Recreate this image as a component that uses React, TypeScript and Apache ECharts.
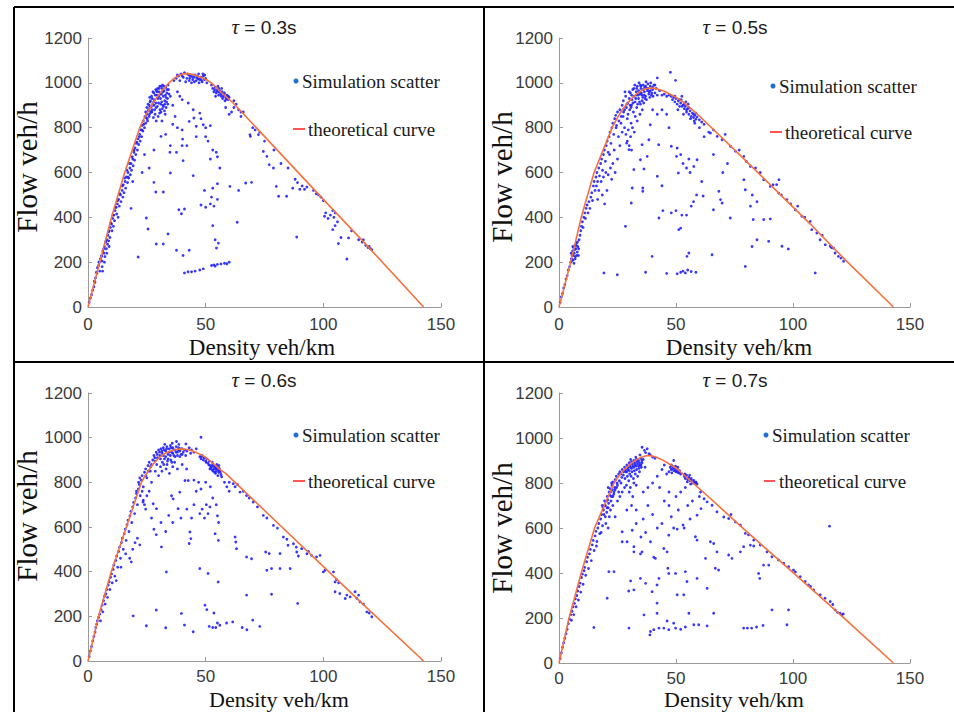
import React, { useEffect, useRef } from "react";
import * as echarts from "echarts";

// ---------- data ----------
const xRange = [0, 150];
const xStep = 50;
const yRange = [0, 1200];
const yStep = 200;
const tauLabels = ["0.3s", "0.5s", "0.6s", "0.7s"];
const xAxisName = "Density veh/km";
const yAxisName = "Flow veh/h";
const legendScatter = "Simulation scatter";
const legendCurve = "theoretical curve";

const curve03: number[][] = [[0,0],[5,200],[10,400],[15.6,600],[22,800],[24,845],[26,882],[28,915],[30,945],[32,972],[34,995],[36,1015],[38,1030],[40.5,1040],[42.5,1041],[44.5,1037],[46.5,1031],[48.5,1023],[50.5,1013],[52.5,999],[54.5,980],[56.5,958],[58.5,940],[61.7,910],[84.4,655],[100,480],[118.5,275],[142.6,0]];
const curve05: number[][] = [[0,0],[5,200],[9.5,400],[15,600],[22.7,800],[25,845],[27,880],[29.5,912],[32,940],[34,957],[36,970],[38,976],[39.5,977],[41.5,974],[43.5,968],[45.5,960],[47.5,949],[50.5,932],[53,915],[55.5,893],[58,870],[60,852],[78.9,662],[107.4,370],[121.6,218],[142.9,0]];
const curve06: number[][] = [[0,0],[4.5,200],[9.9,400],[16.3,600],[22.7,800],[24.5,833],[26.5,865],[28.5,892],[30.5,913],[32.5,928],[35,940],[37.5,947],[39.7,950],[42,947],[44,942],[46,934],[48,924],[50,911],[52,895],[54,877],[56,858],[58.5,840],[61.7,808],[75.9,665],[104.3,380],[118.5,238],[142.6,0]];
const curve07: number[][] = [[0,0],[4.3,200],[9.5,400],[15.2,600],[23.5,800],[25.5,830],[27.5,856],[29.5,875],[31.5,893],[33.5,906],[35.5,916],[37.7,922],[39.5,921],[41.5,915],[43.5,906],[45.5,895],[47.5,882],[50.5,863],[64.7,731],[78.9,596],[107.4,334],[121.6,202],[142.9,0]];

const scatter03: number[][] = [
[0.5,20],[1,40],[1.5,55],[2,75],[2.5,90],[3,110],[3.2,130],[3.8,150],[4,175],[4.5,185],[4.8,200],[5,160],[6.2,160],[5.3,215],[5.8,230],[6,205],[6.3,250],[6.8,240],[7,270],[7.2,225],[7.5,290],[7.8,260],[8,300],[8.3,280],[8.5,320],[8.8,295],[9,340],[9.3,310],[9.5,355],[10,370],[10.2,340],[10.5,395],[10.8,360],[11,410],[11.3,385],[11.5,430],[12,445],[12.2,415],[12.5,460],[12.8,400],[13,480],[13.3,450],[13.8,500],[14,470],[14.5,520],[14.8,490],[15,545],[15.3,510],[15.8,560],[16,530],[16.3,580],[16.8,555],[17,600],[17.3,575],[17.8,620],[18,590],[18.3,640],[18.5,610],[19,660],[19.2,630],[19.5,690],[19.8,655],[20,710],[20.3,680],[20.5,730],[21,700],[21.3,750],[21.5,725],[22,770],[22.2,740],[22.5,790],[22.8,760],[23,810],[23.3,785],[23.5,830],[24,800],[24.2,850],[24.5,820],[25,860],[25.2,840],[25.5,875],[26,850],[26.3,890],[26.8,870],
[24.5,870],[25,890],[25.5,905],[26.4,915],[27.3,930],[27.9,915],[28.6,945],[29.1,965],[29.7,930],[30.3,975],[30.7,950],[31.3,915],[31.9,960],[32.4,985],[32.7,905],[33.1,935],[33.6,970],[34.4,950],[27.1,870],[28.3,880],[29.5,895],[30.4,865],[31.6,885],[32.5,875],[33.9,905],[26.1,860],[25.3,830],[24.7,845],[23.7,815],[22.9,790],[21.8,760],[20.8,735],[19.6,700],[18.8,670],[17.6,640],[16.6,610],[15.6,575],[14.6,540],[13.6,505],[12.6,475],[11.6,445],[10.6,410],[9.7,375],[8.7,335],[7.7,295],[6.7,260],[5.7,225],[4.6,200],[3.6,155],[2.7,115],[6,180],[7,200],[8,240],[9,270],
[18.3,440],[21.3,223],[24.8,397],[25.5,348],[17,580],[19,560],[23,600],[26,620],[28,700],[24,680],
[26,900],[26.5,920],[27,940],[27.5,905],[28,955],[28.3,925],[28.8,970],[29,890],[29.3,945],[29.6,975],[30,910],[30.2,960],[30.5,985],[30.8,930],[31,870],[31.2,950],[31.5,975],[31.8,900],[32,940],[32.3,965],[32.6,920],[33,980],[33.2,890],[33.5,955],[27.2,880],[28.5,860],[29.8,850],[30.6,880],[32.8,860],[31.4,830],[29,830],[27.8,845],[33.8,930],[34.2,970],[25.8,880],[26.7,870],[28.1,900],[30.1,940],[31.7,990],[29.4,960],[27.6,960],[30.9,905],[32.1,895],[33.4,915],[34,990],[28.9,910],[27,895],[31.1,985],[32.9,945],[26.2,935],
[36.5,1010],[37.5,1020],[38.5,1030],[39.5,1040],[40.5,1025],[41,1045],[42,1020],[43,1010],[43.5,1030],[44.5,1015],[45,1025],[46,1010],[46.5,1030],[47,1040],[47.5,1015],[48,1025],[48.5,1005],[49,1030],[49.5,1015],[50,1020],[50.5,1000],[41.5,1005],[44,1000],[47.2,1000],[45.5,1035],[39,1010],[42.8,1035],[48.8,1040],[46.8,1018],[38,1035],[40,1030],[42.2,1040],[44.2,1028],[46.2,1022],[48.2,1012],[49.6,1035],[45.2,1005],[43.2,1020],
[53,975],[53.5,960],[54,980],[54.5,955],[55,970],[55.5,945],[56,965],[56.5,950],[57,960],[57.5,940],[58,955],[58.5,935],[59,945],[59.5,925],[60,935],[55.2,985],[54.2,940],[56.8,975],[58.2,920],[52.5,990],[57.2,930],[53.8,968],[54.8,962],[55.8,958],[56.6,940],[57.8,948],[58.8,928],[59.6,940],[55.6,975],
[35,940],[36,900],[38,960],[39,940],[40,925],[42.6,910],[44.7,880],[37,850],[36,815],[43,828],[45,843],[46,806],[47.5,865],[49,813],[52,809],[40,790],[40.2,749],[31,761],[34.8,690],[37.6,690],[40.4,653],[40,720],[42,720],[50,760],[51,740],[53,700],[54.5,690],[55,670],[52,660],[28,556],[28.8,513],[32,513],[35,598],[44.7,586],[38.6,434],[39.7,416],[41,437],[48,455],[50,445],[52,460],[53.5,450],[52.5,490],[55,480],[49.5,520],[53,530],[55,550],[56,620],[60.3,538],[64,520],[67,553],[69.5,556],[63.4,378],[53,363],[54.6,263],[55.4,285],[54,300],[34,326],[29,281],[32,281],[37.6,253],[40.4,230],[43,253],
[41,152],[42.5,157],[44,157],[45.5,160],[47.5,165],[49,170],[52.5,185],[53.5,188],[55,190],[56.5,192],[58,195],[59,193],[60,200],[54,182],
[62,890],[61,870],[65,850],[58.5,890],[60,860],[62,920],[63,905],[66,870],[64,880],[65,870],[48,840],[50,800],[46,760],[38,800],[33,770],[35,720],
[68.8,769],[69,761],[70,800],[71,790],[72.4,769],[73,780],[74.5,694],[76,672],[75,740],[77,635],[78.8,620],[79,700],[80,538],[81,494],[84.4,494],[82,640],[85,620],[88,570],[87,530],[89,555],[90,525],[91,540],[92,525],[93,535],[88.7,312],[95.8,520],[97,505],[98,500],[99,490],[100,475],[100.5,405],[101,420],[102,395],[103,410],[104,430],[104.5,400],[105,420],[106,380],[104,345],[105,363],[106.4,283],[107.5,310],[110,214],[110.7,308],[112,340],[115,300],[116.5,290],[117,300],[118,275],[119,265],[120,260],[120.6,255],[119.5,270]
];

const scatter05: number[][] = [
[0.5,20],[1,45],[1.5,60],[2,85],[2.5,100],[3,125],[3.5,140],[4,165],[4.5,180],[5,200],[5.3,215],[5.6,230],[5.8,250],[6,210],[6.2,265],[6.5,240],[6.8,275],[7,225],[7.2,260],[7.5,285],[7.8,245],[8,270],[6.4,195],[8.3,230],[8.6,300],[9,320],[9.3,340],[9.6,360],[10,380],[10.3,355],[10.6,400],[11,420],[11.3,395],[11.6,440],[12,455],[12.4,420],[12.8,470],[13.2,440],[13.6,490],[14,510],[14.3,475],[14.7,540],[15,560],[15.4,520],[15.8,580],[16.2,600],[16.5,560],[17,620],[17.3,585],[17.8,640],[18.2,660],[18.6,610],[19,680],[19.4,700],[19.8,650],[20.2,720],[20.6,740],[21,690],[21.4,760],[21.8,780],[22.2,730],[22.6,800],[23,820],[23.4,770],[23.8,840],[24.2,855],[24.6,810],[25,870],
[5.2,240],[5.9,270],[6.6,255],[7.3,275],[7.9,290],[6.1,230],[6.9,215],[7.6,230],[5.4,205],[8.4,260],
[16,540],[17,520],[18,560],[19,580],[20,600],[21,590],[22,620],[23,640],[24,600],[25,660],[18.5,500],[20.5,520],[22.5,570],[19.5,460],[16.5,480],[21.6,680],[23.6,700],[26,720],[25.4,760],[27,780],[28,800],[26.5,820],
[26,880],[27,900],[27.5,920],[28,880],[28.5,940],[29,905],[29.5,860],[30,930],[30.5,955],[31,900],[31.5,970],[32,940],[32.5,915],[33,960],[33.5,985],[34,930],[34.5,950],[35,975],[35.5,920],[36,990],[36.5,960],[37,940],[37.5,975],[38,995],[38.5,960],[39,985],[39.5,945],[40,970],[40.5,990],[41,955],[41.5,975],[42,945],[30.2,880],[31.8,870],[33.2,890],[34.8,905],[36.2,910],[32.4,990],[34.2,1000],[37.2,1005],[29.2,840],[30.8,820],[32.6,850],[35.6,880],[28.2,960],[31.2,925],[33.8,945],[35.2,955],[36.8,930],[38.8,935],[40.2,940],[39.2,1000],[37.8,965],[35.8,935],[33.6,905],[30.4,900],[27.4,850],[29.6,790],[30.6,760],[31.4,800],[32.2,780],[33.4,830],[34.6,860],[28.6,770],[29.2,740],[30,720],[31,700],
[30,960],[31,945],[32,975],[33,945],[34,965],[35,985],[36,970],[37,985],[38,975],[39,965],[40,980],[41,990],[31.6,910],[32.8,930],[34.4,915],[35.4,945],[36.4,945],[37.4,925],[38.4,950],[39.6,955],[33.2,975],[34.8,990],[36.6,980],[30.8,890],[29.4,910],[28.8,890],[27.6,870],[26.6,850],[25.6,830],[24.4,800],
[47,945],[48,940],[48.5,925],[49,935],[49.5,915],[50,930],[50.5,905],[51,920],[51.5,895],[52,910],[52.5,940],[53,900],[53.5,885],[54,895],[54.5,870],[55,885],[55.5,860],[56,875],[56.5,850],[57,865],[57.5,845],[58,855],[58.5,838],[59,848],[60,835],[61,825],[62,815],[52.2,925],[54.2,915],[55.2,905],[50.8,880],[53.2,860],[56.2,840],[57.8,830],[44,945],[45,950],[46,940],[43,965],[42,1022],[47.6,1047],[49.8,1011],[49.5,940],[51.5,925],[53.5,905],[55.5,890],[57.5,860],[58.5,865],[52.5,895],[54.5,880],
[39,813],[38.4,746],[37.7,672],[42.6,724],[48,717],[50.5,709],[52,680],[35.5,724],[29.9,702],[28.9,731],[34.8,657],[32,613],[36.3,616],[42,583],[44,541],[51,598],[50.2,672],[53,640],[54.5,620],[55.5,660],[56,600],[59,657],[57.6,627],[61,560],[31.3,531],[35.8,516],[35.8,531],[28.4,360],[30.9,464],[42.7,397],[44.4,430],[48,420],[50,430],[52.5,410],[54.5,410],[56.5,450],[57.5,470],[58.8,500],[61.6,495],[51.2,345],[52,352],[55.5,241],[54.7,226],[39.8,226],[19.2,152],[24.9,144],[37,155],[46,150],[50.5,148],[52,155],[53,160],[54,152],[55,165],[56.5,158],[58.5,155],[65.4,233],[79.6,181],[109.5,152],[82.5,270],[84.6,300],[89.6,293],[90.3,393],[83,390],[87.5,390],[81.8,450],[84.6,470],[82.6,500],[79.6,523],[79,568],[95.3,271],[98,259],[93,546],[94,568],[68.3,516],[69.7,464],[66,434],[69,479],[73.2,397],[70,600],[72,640],[66,680],[62,760],[64,780],[60,800],[58,820],[46,860],[44,880],[47,800],[40,880],[42,860],
[64.7,776],[66,790],[67.6,761],[69.7,746],[71,770],[73.3,717],[75.4,695],[77,700],[79,672],[80,650],[81.8,627],[84,620],[86,600],[87.5,568],[90.3,538],[91.5,545],[93.9,508],[95,500],[97.4,479],[99,460],[101,434],[102,450],[103.8,405],[105,400],[107.4,382],[108,345],[110.2,330],[111.6,300],[112.5,320],[113.8,278],[115.9,271],[116.5,265],[117.3,263],[118,241],[119.4,226],[120.5,218],[121.6,204]
];

const scatter06: number[][] = [
[0.5,20],[1,45],[1.5,65],[2,90],[2.5,110],[3,130],[3.3,150],[3.7,165],[4,180],[4.5,195],[5,210],[5.3,180],[5.6,230],[6,250],[6.3,220],[6.6,270],[7,290],[7.3,255],[7.6,300],[8,320],[8.3,285],[8.6,340],[9,355],[9.3,320],[9.6,375],[10,390],[10.3,350],[10.7,410],[11,430],[11.4,380],[11.8,450],[12.2,470],[12.6,420],[13,490],[13.4,510],[13.8,460],[14.2,530],[14.6,550],[15,500],[15.4,570],[15.8,590],[16.2,540],[16.6,610],[17,630],[17.4,580],[17.8,650],[18.2,670],[18.6,620],[19,690],[19.4,710],[19.8,660],[20.2,730],[20.6,750],[21,700],[21.4,770],[21.8,790],[22.2,740],[22.6,810],[23,830],[23.5,780],[24,845],[24.5,860],[25,820],[25.5,875],[26,890],[26.5,850],
[17.7,460],[18.4,444],[19,500],[20,530],[21,550],[22,520],[19.2,202],[12,360],[14,420],[16,480],[20.6,760],[21.5,800],[22,820],[23,760],[23.5,720],[24,700],[25,740],[26,760],[27,800],[24.5,680],
[27.5,900],[28,920],[28.5,895],[29,935],[29.5,910],[30,945],[30.5,920],[31,950],[31.5,930],[32,955],[32.5,905],[33,940],[33.5,960],[34,925],[34.5,950],[35,965],[35.5,935],[36,955],[36.5,920],[37,945],[37.5,960],[38,935],[38.5,955],[39,940],[39.5,925],[40,950],[40.5,935],[41,945],[41.5,920],[42,940],[29.2,880],[30.8,870],[32.2,880],[33.8,895],[35.2,900],[36.8,890],[31.4,850],[33.2,860],[34.6,840],[30,830],[28.6,850],[36,870],[37.6,983],[35.8,975],[32.6,970],[38.6,970],[41.6,972],[46,950],[44,945],[45,935],[43,955],[48,1002],[43.6,930],
[29.4,925],[30.4,935],[31.4,940],[32.4,945],[33.4,950],[34.4,935],[35.4,955],[36.4,945],[37.4,935],[38.4,945],[39.4,950],[30.8,905],[32,920],[33,915],[34,905],[35,920],[36,930],[37,915],[38,920],[39,915],[40,925],[28.4,910],[27,880],[26.6,870],[25.6,850],[24.6,830],[31.6,890],[33.6,880],[35.6,890],
[47.5,915],[48,905],[48.5,920],[49,900],[49.5,910],[50,895],[50.5,905],[51,885],[51.5,895],[52,875],[52.5,870],[53,880],[53.5,860],[54,870],[54.5,850],[55,865],[55.5,845],[56,855],[56.5,835],[54.2,840],[53.2,850],[55.2,830],[52.8,890],[51.8,860],[56.8,825],[55.6,875],[54.8,880],[52.2,865],[53.4,872],[54.4,860],[55.4,855],[56.2,845],[52.8,855],[53.8,845],[54.6,868],[55.8,862],[51.4,878],[50.2,890],[49.2,912],[48.2,915],
[61.7,794],[60,800],[62.5,780],[63.5,790],[64.6,756],[66,760],[67.4,741],[68.5,730],[70.2,712],[72,690],[74.5,652],[76,640],[78.8,607],[80.5,595],[83,555],[84.5,545],[87.3,525],[88.5,510],[90.8,503],[93,480],[95,473],[97.1,466],[98.6,473],[100.7,406],[100,399],[104.3,399],[105,354],[105.6,365],[106.5,350],[107,302],[105,310],[109.3,280],[110,295],[111.4,287],[113.5,310],[114.2,281],[115,295],[115.6,265],[117,255],[118.5,220],[119.5,215],[120.6,198],
[41.9,860],[42.6,808],[41.2,808],[39,756],[38.3,682],[23.4,712],[27.7,704],[29.1,682],[29,566],[28,590],[27,640],[31.2,511],[33.3,399],[34.3,652],[36.2,726],[35.5,740],[43.7,548],[43,526],[43.3,578],[47.5,660],[48.5,680],[49.5,640],[50.3,700],[51,660],[51.8,690],[53,730],[54.5,700],[55,650],[55.5,620],[54,570],[55.4,540],[51,392],[47.5,414],[55.3,354],[49.7,250],[50.5,230],[53.5,215],[55,170],[54.3,150],[56,160],[53,150],[51.5,155],[41,161],[44.7,131],[33,149],[24.8,158],[29,228],[39.7,213],[58.9,170],[61.5,175],[65.5,150],[67.5,140],[70,183],[73,155],[67.4,295],[63.1,503],[62.8,533],[62.5,555],[67.4,466],[69.5,458],[78,299],[75.5,488],[77,481],[76,406],[78,414],[81.6,414],[85.9,414],[81.6,481],[85,518],[89.1,258],[88.7,488],[89.4,470],[93.7,491],[45,700],[44,640],[46,760],[48,770],[42,680],[39.5,640],[36,620],[33,580],[31,620],[59,780],[58,800],[60,760],[45,810],[47,800],[38,860],[40,880],[50,800],[52,780]
];

const scatter07: number[][] = [
[0.5,20],[1,45],[1.5,70],[2,90],[2.5,110],[3,130],[3.5,150],[4,175],[4.5,195],[5,215],[5.3,190],[5.6,230],[6,250],[6.3,215],[6.6,265],[7,285],[7.3,250],[7.6,300],[8,320],[8.3,280],[8.6,340],[9,355],[9.3,315],[9.6,380],[10,395],[10.3,350],[10.7,410],[11,425],[11.4,390],[11.8,450],[12.2,470],[12.6,420],[13,485],[13.4,505],[13.8,455],[14.2,525],[14.6,545],[15,500],[15.4,565],[15.8,585],[16.2,540],[16.6,600],[17,620],[17.4,575],[17.8,640],[18.2,660],[18.6,610],[19,680],[19.4,700],[19.8,650],[20.2,720],[20.6,740],[21,690],[21.4,760],[21.8,775],[22.2,720],[22.6,790],[23,805],[23.5,760],[24,815],[24.5,830],[25,790],[25.5,840],[26,850],[26.5,800],
[18.5,700],[19.5,720],[20.5,690],[21.5,650],[22,680],[23,700],[24,650],[25,720],[20,620],[21,600],[18,580],[16,520],[14.9,158],[20.6,288],[21.3,406],[23.5,406],[27,539],[27,583],[29.1,539],[31.3,590],[22,760],[23,740],[24,770],[25.5,760],[26,740],[27,760],[28,780],[21,780],[22.5,800],
[26.5,840],[27,860],[27.5,835],[28,870],[28.5,850],[29,880],[29.5,860],[30,890],[30.5,870],[31,895],[31.5,875],[32,900],[32.5,880],[33,905],[33.5,885],[34,900],[34.5,880],[35,910],[35.5,890],[36,905],[28.2,820],[29.2,830],[30.2,840],[31.2,850],[32.2,855],[33.2,860],[34.2,865],[35.2,870],[29.8,810],[31.8,820],[33.6,830],[30.6,905],[32.8,915],[34.6,925],[35.5,959],[37.7,952],[37,935],[38.5,930],[36.5,945],[39,925],[40,915],[41,910],[36.8,870],[28.8,790],[30.5,780],[32,800],[33,790],[30,760],[31.5,740],
[28.4,860],[29.4,870],[30.4,880],[31.4,885],[32.4,890],[33.4,895],[34.4,890],[35.4,900],[29,850],[30,855],[31,865],[32,870],[33,875],[34,875],[35,880],[30.8,830],[32.6,840],[34.4,850],[27.6,850],[26.8,825],[25.8,810],[24.8,800],[23.8,780],[22.8,770],[21.8,745],[20.8,725],[19.8,700],[18.8,690],[19.2,660],[20.4,670],[21.2,710],[22.4,740],[23.4,750],[24.6,780],
[47.5,870],[48,860],[48.5,875],[49,855],[49.5,865],[50,850],[50.5,860],[51,845],[51.5,855],[52,840],[48.2,845],[49.8,875],[50.8,870],[47,850],[49,900],[48,880],[48.6,865],[49.6,855],[50.6,850],[51.6,845],
[53.5,830],[54,820],[54.5,835],[55,815],[55.5,825],[56,810],[56.5,820],[57,800],[57.5,812],[58,798],[58.5,805],[59,795],[54.8,805],[56.2,795],[53.8,840],[55.8,835],[54.2,828],[55.2,822],[56.4,812],[57.6,805],[58.6,800],
[63.3,716],[62,730],[60.5,760],[65.4,701],[67.5,672],[70.4,649],[72.5,642],[73.5,660],[75.4,627],[77.5,613],[79.6,576],[81,570],[83.2,546],[86,524],[88.9,494],[91,472],[93.8,458],[96,443],[98.1,428],[100.2,413],[101,405],[103.1,384],[105.2,362],[106.6,347],[107.5,340],[108.8,325],[111.6,303],[113.7,288],[115.9,273],[117,260],[118,236],[120.1,221],[120.9,214],[119,225],[121.5,218],
[115.6,608],[41.2,465],[40.5,470],[35.5,494],[34.8,485],[32,494],[32,517],[39.1,539],[44.8,509],[46.2,494],[46.9,568],[49,600],[50.5,595],[53.5,600],[53,613],[58.3,561],[59,546],[59,657],[60.7,686],[62.6,465],[64.7,539],[66.1,531],[67.5,494],[68.2,413],[66.8,421],[72.5,480],[73.9,465],[77.5,494],[78.9,517],[81.8,524],[83.2,520],[85.3,398],[85.8,376],[87.4,435],[89.6,435],[91,236],[98.1,236],[97.4,170],[78.9,155],[80.5,155],[82.3,155],[84.4,160],[87.2,167],[34.8,376],[30.6,365],[32,325],[29.8,320],[39.8,317],[37,354],[41.9,347],[42.7,376],[46.9,398],[46.5,421],[49.8,398],[54,406],[54.7,362],[59,376],[63.3,332],[50.5,303],[53.3,303],[41.9,266],[41.9,221],[36.3,214],[55.5,221],[66.1,221],[46.2,187],[49,177],[39.1,140],[40.5,148],[42.7,155],[44.8,155],[46.9,148],[49.8,155],[52,150],[54,160],[57.6,170],[59.7,170],[63.3,165],[38.8,125],[29.9,155],
[36,760],[38,780],[40,800],[42,830],[44,860],[45,880],[46,840],[43,780],[45,720],[47,700],[50,740],[52,760],[55,700],[57,720],[60,740],[48,650],[51,680],[56,640],[38,700],[40,660],[36,640],[42,600],[44,620],[37,580],[35,560],[33,620],[33,680],[31,700],[29,680],[47,760],[54,780]
];

const curves = [curve03, curve05, curve06, curve07];
const scatters = [scatter03, scatter05, scatter06, scatter07];

// ---------- layout (pixels) ----------
const layout = [
  { grid: { left: 88, top: 38, width: 353, height: 269 }, title: [264, 27], yName: [27, 167], xName: [262, 347], xFont: 23, xMargin: 9, dot: [296, 81], txt1: [302, 81], line: [293, 305, 129], txt2: [308, 129] },
  { grid: { left: 559, top: 38, width: 351, height: 269 }, title: [735, 27], yName: [502, 177], xName: [739, 347], xFont: 23, xMargin: 9, dot: [773, 86], txt1: [779, 86], line: [770, 782, 132], txt2: [785, 132] },
  { grid: { left: 88, top: 393, width: 353, height: 268 }, title: [264, 380], yName: [27, 516], xName: [279, 699], xFont: 22, xMargin: 7, dot: [296, 435], txt1: [302, 435], line: [293, 305, 481], txt2: [308, 481] },
  { grid: { left: 559, top: 393, width: 351, height: 270 }, title: [735, 380], yName: [502, 528], xName: [734, 699], xFont: 22, xMargin: 7, dot: [766, 435], txt1: [772, 435], line: [764, 775, 481], txt2: [779, 481] },
];

const AXIS_GRAY = "#9a9a9a";
const LABEL_COLOR = "#3a3a3a";
const SERIF = "'Liberation Serif', 'Times New Roman', serif";
const SANS = "'Liberation Sans', Arial, sans-serif";

function buildOption() {
  const grid = layout.map((l) => ({ ...l.grid, containLabel: false }));
  const axisCommon = {
    type: "value" as const,
    splitLine: { show: false },
    axisLine: { show: true, onZero: false, lineStyle: { color: AXIS_GRAY, width: 1 } },
    axisTick: { show: true, inside: true, length: 4, lineStyle: { color: AXIS_GRAY } },
    axisLabel: { color: LABEL_COLOR, fontSize: 17, fontFamily: SANS, formatter: (v: number) => String(v) },
  };
  const xAxis = layout.map((l, i) => ({
    ...axisCommon,
    gridIndex: i,
    min: xRange[0],
    max: xRange[1],
    interval: xStep,
    axisLabel: { ...axisCommon.axisLabel, margin: l.xMargin },
  }));
  const yAxis = layout.map((_, i) => ({
    ...axisCommon,
    gridIndex: i,
    min: yRange[0],
    max: yRange[1],
    interval: yStep,
    axisLabel: { ...axisCommon.axisLabel, margin: 6 },
  }));
  const series: any[] = [];
  layout.forEach((_, i) => {
    series.push({
      type: "scatter",
      name: legendScatter,
      xAxisIndex: i,
      yAxisIndex: i,
      data: scatters[i],
      symbol: "circle",
      symbolSize: 2.8,
      itemStyle: { color: "#2020ff", opacity: 0.9 },
      silent: true,
      z: 2,
    });
    series.push({
      type: "line",
      name: legendCurve,
      xAxisIndex: i,
      yAxisIndex: i,
      data: curves[i],
      showSymbol: false,
      smooth: false,
      lineStyle: { color: "#f7703c", width: 1.6 },
      silent: true,
      z: 3,
    });
  });

  const graphic: any[] = [];
  const border = (x1: number, y1: number, x2: number, y2: number) => ({
    type: "line",
    shape: { x1, y1, x2, y2 },
    style: { stroke: "#000", lineWidth: 2 },
    silent: true,
  });
  graphic.push(border(14, 7, 954, 7));
  graphic.push(border(14, 7, 14, 712));
  graphic.push(border(484, 7, 484, 712));
  graphic.push(border(14, 362, 954, 362));

  layout.forEach((l, i) => {
    graphic.push({
      type: "text",
      x: l.title[0],
      y: l.title[1],
      style: {
        text: "{t|τ} = " + tauLabels[i],
        align: "center",
        verticalAlign: "middle",
        fontFamily: SANS,
        fontSize: 19,
        fill: "#1a1a1a",
        rich: { t: { fontFamily: SERIF, fontStyle: "italic", fontSize: 21, fill: "#1a1a1a" } },
      },
    });
    graphic.push({
      type: "text",
      x: l.yName[0],
      y: l.yName[1],
      rotation: Math.PI / 2,
      style: { text: yAxisName, align: "center", verticalAlign: "middle", fontFamily: SERIF, fontSize: 29, fill: "#111" },
    });
    graphic.push({
      type: "text",
      x: l.xName[0],
      y: l.xName[1],
      style: { text: xAxisName, align: "center", verticalAlign: "middle", fontFamily: SERIF, fontSize: l.xFont, lineHeight: 18, fill: "#111" },
    });
    graphic.push({
      type: "circle",
      shape: { cx: l.dot[0], cy: l.dot[1], r: 2.5 },
      style: { fill: "#1f6fd1" },
    });
    graphic.push({
      type: "text",
      x: l.txt1[0],
      y: l.txt1[1],
      style: { text: legendScatter, align: "left", verticalAlign: "middle", fontFamily: SERIF, fontSize: 19, fill: "#1a1a1a" },
    });
    graphic.push({
      type: "line",
      shape: { x1: l.line[0], y1: l.line[2], x2: l.line[1], y2: l.line[2] },
      style: { stroke: "#ff2a2a", lineWidth: 1.6 },
    });
    graphic.push({
      type: "text",
      x: l.txt2[0],
      y: l.txt2[1],
      style: { text: legendCurve, align: "left", verticalAlign: "middle", fontFamily: SERIF, fontSize: 19, fill: "#1a1a1a" },
    });
  });

  return {
    animation: false,
    backgroundColor: "#ffffff",
    grid,
    xAxis,
    yAxis,
    series,
    graphic,
  };
}

export default function App() {
  const ref = useRef<HTMLDivElement>(null);
  useEffect(() => {
    if (!ref.current) return;
    const chart = echarts.init(ref.current, undefined, { renderer: "svg" });
    chart.setOption(buildOption() as any);
    return () => chart.dispose();
  }, []);
  return (
    <div
      ref={ref}
      style={{ position: "absolute", left: 0, top: 0, width: 954, height: 712, background: "#fff" }}
    />
  );
}
